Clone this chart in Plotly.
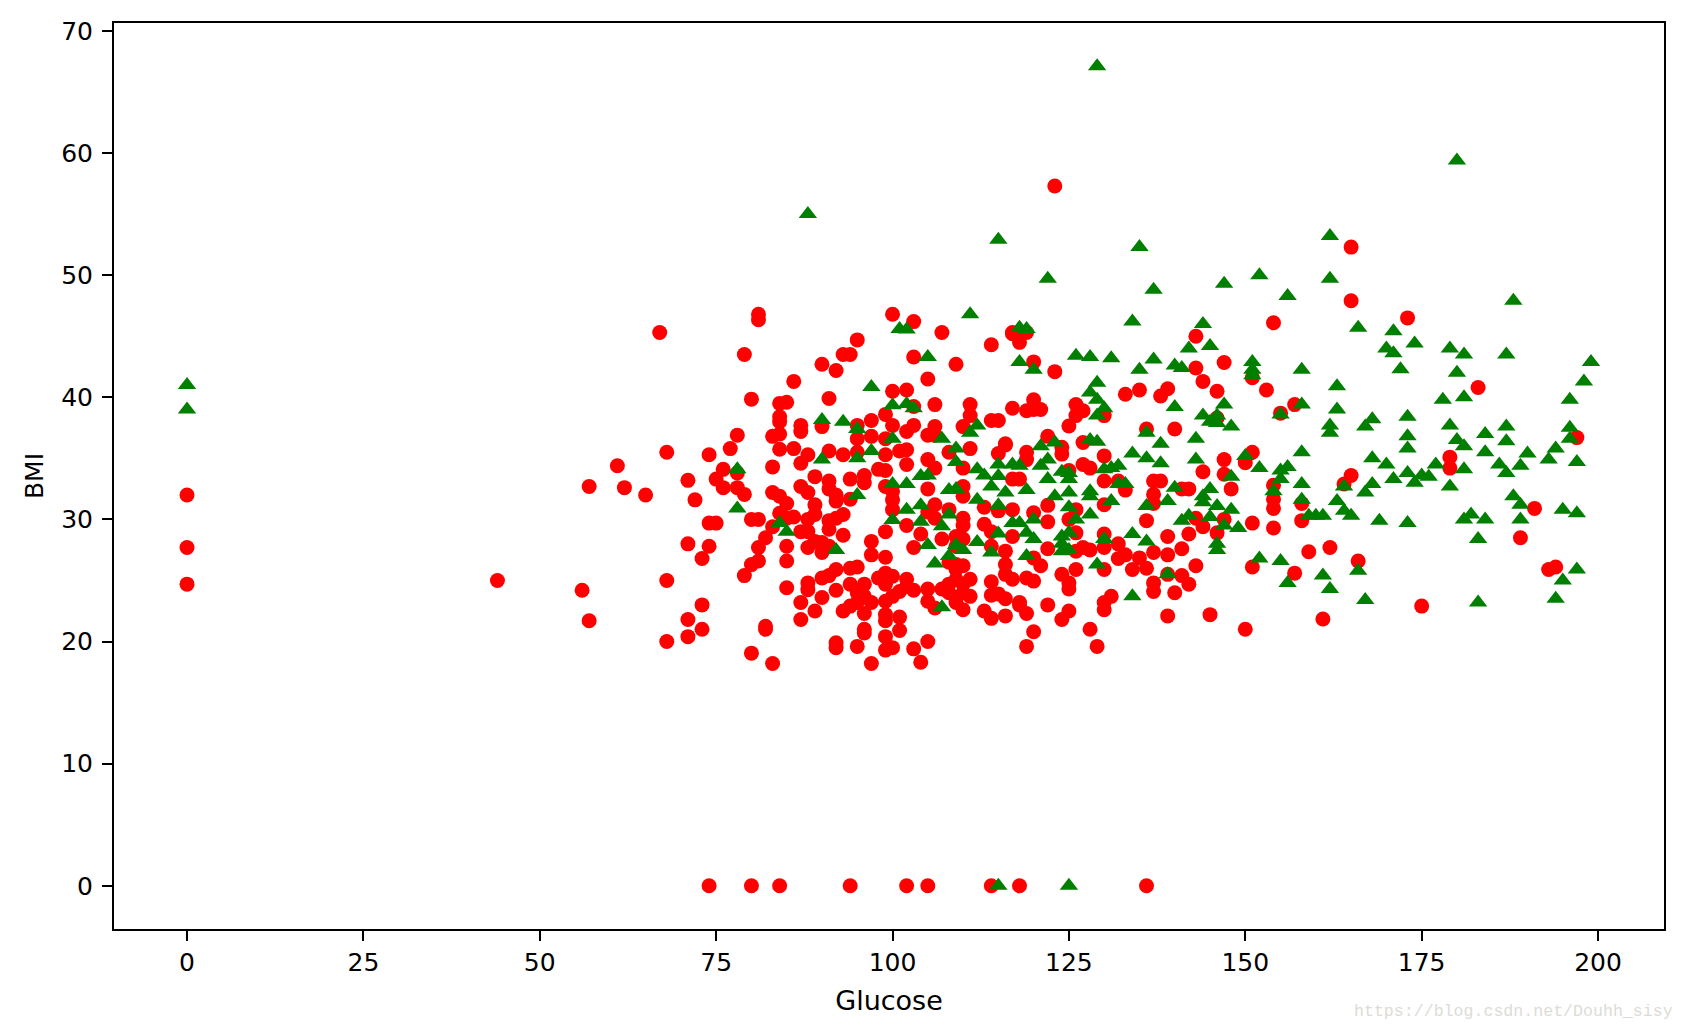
import plotly.graph_objects as go

red_low = [(0,32.0),(0,27.7),(0,24.7),(44,25.0),(56,24.2),(57,21.7),(57,32.7),(61,34.4),(62,32.6),(65,32.0),(67,45.3),
(74,0),(80,0),(84,0),(94,0),(102,0),(105,0),(114,0),(118,0),(136,0)]
red_left_top = [(81,46.8),(81,46.35),(100,46.8),(103,46.2),(107,45.3),(95,44.7),(93,43.5),(94,43.5),(79,43.5),(90,42.7),(92,42.2),(103,43.3),(109,42.7),(114,44.3),(117,45.2),(86,41.3),(105,41.5),(100,40.5),(102,40.6),(91,39.9),(80,39.85),(84,39.5),(85,39.6),(106,39.4),(103,39.25),(111,39.4),(117,39.1),(84,38.4),(84,38.0),(87,37.7),(87,37.2),(90,37.6),(95,37.7),(97,38.1),(99,38.6),(100,37.7),(103,37.7),(102,37.2),(106,37.6),(105,36.9),(106,36.9),(110,37.6),(111,38.5),(114,38.1),(115,38.1),
(78,36.9),(83,36.8),(84,37.0),(84,35.75),(86,35.8),(95,36.6),(97,36.8),(99,36.6),(77,35.8),(68,35.5),(74,35.3),(88,35.3),(87,34.6),(91,35.6),(93,35.3),(95,35.5),(99,35.3),(101,35.6),(102,35.7),(102,34.5),(105,34.9),(106,34.2),(108,35.5),(111,35.8),(115,35.4),(116,36.1),(98,34.1),(99,34.0),(83,34.3)]
red_left_mid = [(71,33.2),(72,31.6),(76,34.1),(75,33.3),(76,32.6),(78,33.8),(78,32.6),(79,32.05),(110,34.2),(89,33.5),(91,33.15),(91,32.5),(92,32.0),(92,31.5),(94,31.65),(94,33.3),(96,33.6),(96,33.0),(87,32.7),(88,32.2),(89,31.2),(89,30.4),(88,30.0),(83,32.2),(84,31.9),(85,31.3),(84,30.5),(86,30.2),(85,30.1),(80,30.0),(81,30.0),(74,29.7),(75,29.7),(83,29.4),(82,28.5),(81,27.7),(81,26.6),(80,26.3),(79,25.4),(71,28.0),(74,27.8),(73,26.8),(68,25.0),(85,27.8),(85,26.6),(87,29.0),(88,29.0),(88,27.7),(89,28.2),(90,28.1),(90,27.3),(91,27.8),(91,29.2),(91,29.9),(92,30.1),(93,30.4),(93,28.7),(97,28.2),(97,27.1),(99,26.9),(99,29.0),(103,27.7),(102,29.5),(100,31.6),(100,30.8),(100,32.3),(99,32.7),(105,32.5),(106,31.2),(108,30.8),(105,30.6),(104,28.8),(106,30.1),(107,28.4),(110,31.9),(110,32.7),(113,31.0),(115,30.7),(117,30.8),(110,30.1),(110,29.5),(113,29.6),(114,29.0),(114,27.8),(117,28.6),(116,27.4),(116,26.3),(116,25.5),(117,25.1),(110,26.2),(109,25.9),(109,27.8),(110,28.4),(109,28.6),(108,26.5)]
red_left_low = [(92,25.9),(94,26.0),(95,26.1),(88,24.8),(88,24.25),(90,25.2),(91,25.4),(92,24.2),(90,23.6),(94,24.7),(96,24.7),(95,24.0),(96,23.7),(97,23.2),(95,23.2),(94,22.9),(93,22.5),(96,22.3),(85,24.4),(87,23.2),(89,22.5),(87,21.8),(73,23.0),(71,21.8),(73,21.0),(71,20.4),(68,20.0),(82,21.25),(82,21.0),(80,19.05),(83,18.2),
(98,25.2),(99,25.6),(99,24.7),(100,25.35),(101,24.1),(102,25.1),(103,24.2),(105,24.3),(105,23.3),(106,22.75),(102,24.5),(100,23.7),(99,23.3),(99,22.2),(99,21.7),(101,22.0),(101,20.9),(96,21.0),(96,20.7),(99,20.4),(92,19.9),(92,19.5),(95,19.6),(97,18.2),(99,19.3),(100,19.5),(103,19.4),(105,20.0),(104,18.3),
(107,24.3),(108,24.7),(108,24.0),(109,23.2),(109,25.1),(110,24.7),(110,24.0),(111,25.1),(111,23.7),(110,22.6),(113,22.5),(114,24.9),(114,21.9),(114,23.8),(115,23.9),(116,23.5),(116,22.1),(118,23.0),(109,26.3)]
red_right_top = [(165,47.9),(154,46.1),(143,45.0),(117,45.3),(118,44.5),(119,45.3),(120,42.9),(123,42.1),(143,42.4),(147,42.85),(144,41.3),(146,40.5),(151,41.6),(153,40.6),(157,39.4),(155,38.7),(133,40.25),(135,40.6),(138,40.1),(139,40.7),(126,39.4),(127,38.9),(126,38.5),(125,37.65),(120,39.8),(119,38.9),(120,39.0),(121,39.0),(130,38.5),(136,37.4),(140,37.4),(146,38.3),(122,36.8),(116,36.2),(127,36.3),(124,35.9),(124,35.35),(119,35.5),(119,34.9),(130,35.2),(127,34.5),(128,34.2),(130,33.15),(132,33.15),(117,33.3),(118,33.3),(125,34.0),(137,33.15),(138,33.15),(137,32.05),(137,31.3),(141,32.5),(142,32.5),(133,32.4),(144,33.9),(147,34.9),(147,33.7),(148,32.5),(150,34.65),(151,35.5),(154,32.8),(154,31.65),(154,30.9),(158,31.3),(158,29.9),(154,29.3),(151,29.7),(165,33.6),(164,32.9)]
red_right_low = [(122,31.15),(120,30.55),(122,29.8),(125,30.0),(130,31.2),(126,30.8),(126,28.9),(130,28.8),(136,29.9),(139,28.6),(142,28.8),(143,30.1),(144,29.4),(146,28.9),(147,30.0),(122,27.6),(126,27.4),(127,27.7),(130,27.7),(128,27.5),(132,28.0),(132,26.8),(133,27.1),(134,25.9),(135,26.85),(136,26.0),(137,27.3),(139,27.1),(141,27.6),(143,26.2),(139,25.5),(141,25.4),(142,24.7),(137,24.8),(137,24.1),(140,24.0),(120,26.85),(121,26.2),(119,25.2),(120,24.95),(124,25.5),(126,25.9),(125,24.8),(125,24.3),(130,25.9),(118,23.2),(119,22.3),(122,23.0),(125,22.5),(124,21.8),(130,23.2),(130,22.6),(131,23.7),(128,21.0),(120,20.8),(119,19.6),(129,19.6),(139,22.1),(145,22.2),(150,21.0),(161,21.85),(151,26.1),(157,25.6),(159,27.35),(162,27.7),(166,26.6)]
red_outliers = [(165,52.3),(173,46.5),(183,40.8),(197,36.7),(179,35.1),(179,34.2),(191,30.9),(189,28.5),(193,25.9),(194,26.1),(175,22.9),(123,57.3)]

green_outliers = [(0,41.0),(0,39.0),(115,0),(125,0),(129,67.1),(88,55.0),(115,52.9),(135,52.3),(152,50.0),(156,48.3),(137,48.8),(147,49.3),(122,49.7),(162,53.2),(162,49.7),(111,46.8),(180,59.4),(188,47.9)]
green_left = [(101,45.6),(102,45.55),(118,45.7),(105,43.3),(118,42.9),(97,40.85),(100,39.35),(102,39.45),(103,39.1),(90,38.15),(93,38.0),(95,37.4),(100,36.6),(107,36.6),(111,37.1),(112,37.7),(109,35.8),(97,35.6),(90,34.9),(95,35.0),(109,34.7),(115,34.5),(112,34.1),(118,34.4),(115,33.55),(113,33.6),(78,34.1),(104,33.55),(105,33.6),(100,32.9),(102,32.9),(114,32.7),(108,32.4),(109,32.5),(116,32.2),(95,32.0),(112,31.6),(115,31.15),(78,30.9),(104,31.15),(102,30.8),(108,30.4),(100,29.95),(104,29.8),(84,29.7),(85,29.0),(107,29.45),(118,29.7),(115,28.85),(105,27.9),(109,27.9),(112,28.15),(110,27.5),(114,27.3),(92,27.5),(108,27.0),(106,26.4),(107,22.8)]
green_mid_top = [(119,45.6),(134,46.2),(144,46.0),(145,44.2),(142,44.0),(166,45.7),(171,45.4),(170,44.0),(171,43.6),(172,42.3),(120,42.25),(126,43.4),(128,43.3),(131,43.2),(135,42.25),(137,43.1),(140,42.6),(141,42.4),(151,42.9),(151,42.25),(151,41.8),(158,42.25),(163,40.9),(163,39.0),(129,41.2),(128,40.4),(129,39.8),(130,39.1),(129,38.5),(140,39.2),(147,39.4),(144,38.5),(146,38.5),(145,38.0),(146,37.9),(148,37.6),(155,38.6),(158,39.4),(162,37.7),(162,37.1),(168,38.2),(167,37.6),(136,37.1),(143,36.6),(121,36.0),(123,36.3),(128,36.5),(129,36.35),(138,36.2),(134,35.4),(136,35.0),(138,34.6),(122,34.9),(143,34.9),(150,35.2),(158,35.5),(117,34.5),(121,34.4),(168,35.0),(170,34.5),(171,33.3),(152,34.2),(156,34.3),(155,34.0),(155,33.3)]
green_mid_low = [(130,34.1),(131,34.2),(132,34.4),(124,33.9),(125,33.8),(125,33.3),(122,33.3),(148,33.5),(132,32.9),(133,32.9),(140,32.6),(145,32.5),(154,32.3),(158,32.9),(164,32.7),(168,32.9),(167,32.2),(119,32.4),(123,31.9),(125,32.2),(128,32.3),(128,31.9),(144,31.9),(144,31.4),(131,31.5),(139,31.5),(136,31.1),(146,31.1),(148,30.8),(158,31.6),(163,31.5),(164,30.7),(165,30.3),(159,30.3),(160,30.3),(161,30.3),(125,31.0),(128,30.4),(126,30.0),(120,30.0),(142,30.3),(141,29.9),(145,30.2),(147,29.5),(149,29.3),(169,29.9),(117,29.7),(119,28.9),(120,28.4),(124,28.6),(125,28.9),(134,28.8),(136,28.2),(130,28.4),(146,28.0),(146,27.5),(124,28.0),(124,27.4),(125,27.5),(119,27.0),(152,26.8),(155,26.6),(129,26.3),(139,25.5),(161,25.4),(166,25.8),(156,24.8),(162,24.3),(134,23.7),(167,23.4)]
green_right = [(199,42.9),(198,41.3),(196,39.8),(179,44.0),(181,43.5),(180,42.0),(181,40.0),(187,43.5),(178,39.8),(174,44.4),(173,38.4),(173,36.8),(173,35.8),(173,33.8),(173,29.7),(174,33.0),(175,33.6),(176,33.5),(177,34.5),(179,37.7),(180,36.5),(181,36.0),(181,34.1),(179,32.7),(181,30.0),(182,30.4),(183,28.4),(183,23.2),(184,30.0),(184,37.0),(184,35.5),(186,34.5),(187,33.8),(187,37.6),(187,36.4),(188,31.9),(189,31.2),(189,30.0),(189,34.4),(190,35.4),(193,34.9),(194,35.8),(195,30.8),(196,37.5),(196,36.6),(197,34.7),(197,30.5),(197,25.9),(195,25.0),(194,23.5)]

x_ticks = [0,25,50,75,100,125,150,175,200]
y_ticks = [0,10,20,30,40,50,60,70]

red_points = red_low + red_left_top + red_left_mid + red_left_low + red_right_top + red_right_low + red_outliers
green_points = green_outliers + green_left + green_mid_top + green_mid_low + green_right

FONT = "DejaVu Sans"
fig = go.Figure()
fig.add_trace(go.Scatter(x=[p[0] for p in red_points], y=[p[1] for p in red_points], mode="markers", name="0",
    marker=dict(symbol="circle", color="#ff0000", size=15, line=dict(width=0))))
fig.add_trace(go.Scatter(x=[p[0] for p in green_points], y=[p[1] for p in green_points], mode="markers", name="1",
    marker=dict(symbol="triangle-up", color="#007f00", size=16, line=dict(width=0))))
axis = dict(showgrid=False, zeroline=False, showline=True, linecolor="black", linewidth=2,
            mirror=True, ticks="outside", ticklen=10, tickwidth=2, tickcolor="black",
            tickfont=dict(family=FONT, size=25, color="black"))
fig.update_layout(
    width=1687, height=1036, autosize=False, showlegend=False,
    paper_bgcolor="white", plot_bgcolor="white",
    margin=dict(l=114, r=23, t=23, b=107, autoexpand=False),
    font=dict(family=FONT, size=25, color="black"),
    xaxis=dict(axis, range=[-10.35, 209.35], tickmode="array", tickvals=x_ticks,
               title=dict(text="Glucose", font=dict(family=FONT, size=27), standoff=15)),
    yaxis=dict(axis, range=[-3.54, 70.65], tickmode="array", tickvals=y_ticks, ticklabelstandoff=4,
               title=dict(text="BMI", font=dict(family=FONT, size=25), standoff=10)),
    annotations=[dict(text="https://blog.csdn.net/Douhh_sisy", xref="paper", yref="paper",
                      x=1.0068, y=-0.0915, xanchor="right", yanchor="middle", showarrow=False,
                      font=dict(family="Liberation Mono", size=16.6, color="#dcdcd6"))],
)
fig.write_html("out.html", post_script="document.body.style.margin='0';",
               config=dict(displayModeBar=False))
